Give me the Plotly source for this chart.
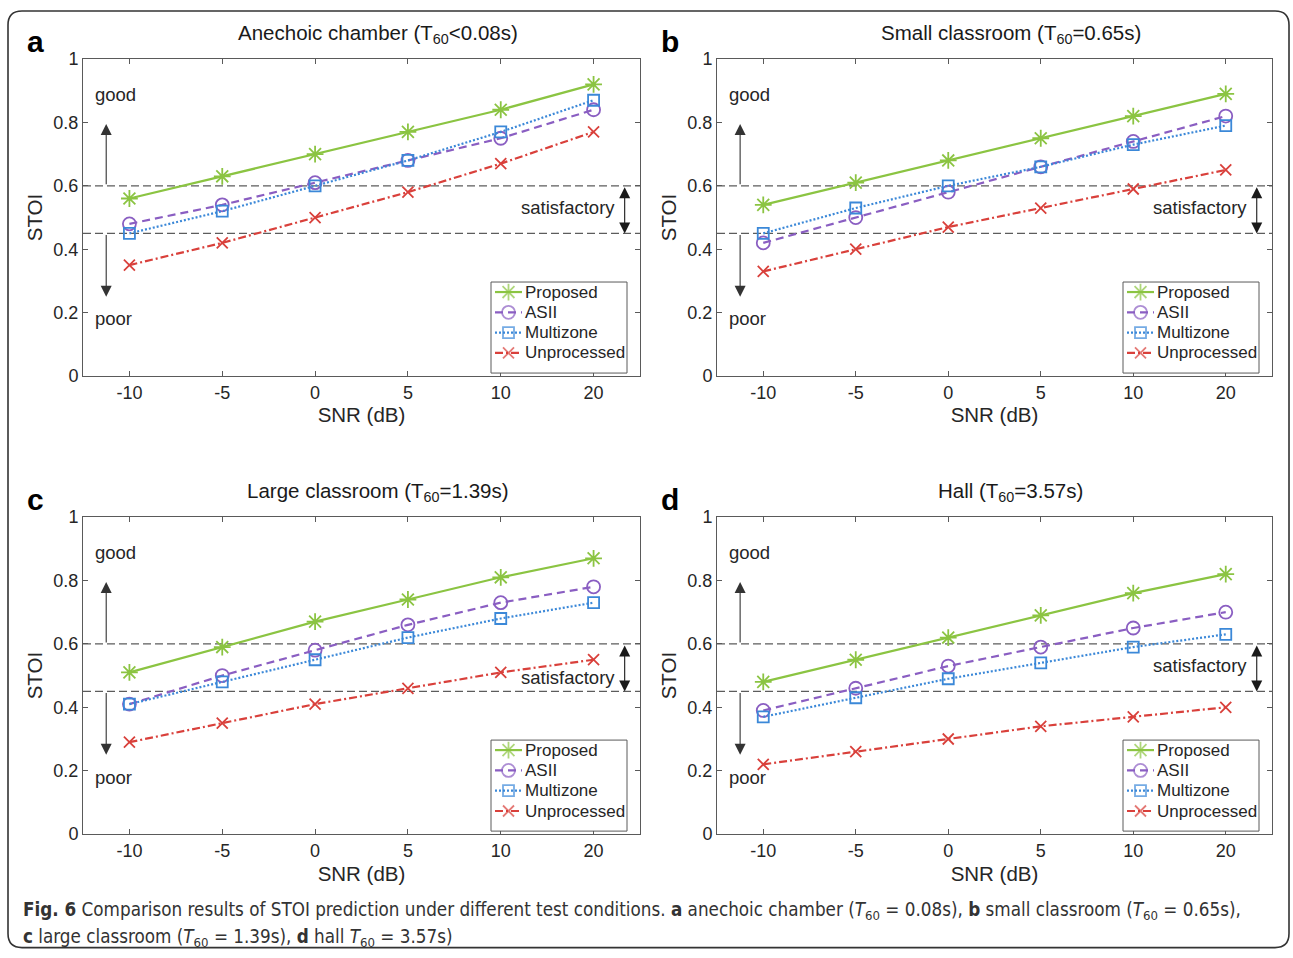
import plotly.graph_objects as go

# ---- data -------------------------------------------------------------
snr_labels = ["-10", "-5", "0", "5", "10", "20"]
series_names = ["Proposed", "ASII", "Multizone", "Unprocessed"]

panel_letters = ["a", "b", "c", "d"]
panel_titles = [
    "Anechoic chamber (T<sub>60</sub>&lt;0.08s)",
    "Small classroom (T<sub>60</sub>=0.65s)",
    "Large classroom (T<sub>60</sub>=1.39s)",
    "Hall (T<sub>60</sub>=3.57s)",
]

# STOI per panel: a, b, c, d
proposed = [
    [0.56, 0.63, 0.70, 0.77, 0.84, 0.92],
    [0.54, 0.61, 0.68, 0.75, 0.82, 0.89],
    [0.51, 0.59, 0.67, 0.74, 0.81, 0.87],
    [0.48, 0.55, 0.62, 0.69, 0.76, 0.82],
]
asii = [
    [0.48, 0.54, 0.61, 0.68, 0.75, 0.84],
    [0.42, 0.50, 0.58, 0.66, 0.74, 0.82],
    [0.41, 0.50, 0.58, 0.66, 0.73, 0.78],
    [0.39, 0.46, 0.53, 0.59, 0.65, 0.70],
]
multizone = [
    [0.45, 0.52, 0.60, 0.68, 0.77, 0.87],
    [0.45, 0.53, 0.60, 0.66, 0.73, 0.79],
    [0.41, 0.48, 0.55, 0.62, 0.68, 0.73],
    [0.37, 0.43, 0.49, 0.54, 0.59, 0.63],
]
unprocessed = [
    [0.35, 0.42, 0.50, 0.58, 0.67, 0.77],
    [0.33, 0.40, 0.47, 0.53, 0.59, 0.65],
    [0.29, 0.35, 0.41, 0.46, 0.51, 0.55],
    [0.22, 0.26, 0.30, 0.34, 0.37, 0.40],
]

upper_threshold = 0.6
lower_threshold = 0.45
satisfactory_label_y = [0.533, 0.533, 0.495, 0.533]

caption_line1 = ("<b>Fig. 6</b> Comparison results of STOI prediction under different test conditions. "
                 "<b>a</b> anechoic chamber (<i>T</i><sub>60</sub> = 0.08s), "
                 "<b>b</b> small classroom (<i>T</i><sub>60</sub> = 0.65s),")
caption_line2 = ("<b>c</b> large classroom (<i>T</i><sub>60</sub> = 1.39s), "
                 "<b>d</b> hall <i>T</i><sub>60</sub> = 3.57s)")

# ---- styling ----------------------------------------------------------
W, H = 1293, 958
# vertical placement: a page row p sits at figure row (p - Y0) / YS
Y0, YS = 9.0, 0.979
FONT = "Liberation Sans, Arial, sans-serif"
CAP_FONT = "Liberation Sans Narrow, DejaVu Sans Condensed, sans-serif"
INK = "#262626"
AXIS = "#5a5a5a"

styles = {
    "Proposed":    dict(color="#8bc442", dash="solid",           symbol="asterisk-open", size=14),
    "ASII":        dict(color="#8a5ec2", dash="8px,5px",         symbol="circle-open",   size=13),
    "Multizone":   dict(color="#3b88d8", dash="2px,2px",         symbol="square-open",   size=11),
    "Unprocessed": dict(color="#d9403b", dash="8px,3px,2px,3px", symbol="x-thin-open",   size=11),
}
series_values = {"Proposed": proposed, "ASII": asii,
                 "Multizone": multizone, "Unprocessed": unprocessed}

# plot-area boxes in page pixels: (left, right, top, bottom)
boxes = [(83, 640, 58, 375), (717, 1272, 58, 375),
         (83, 640, 516, 833), (717, 1272, 516, 833)]


def fx(p):
    return p / W


def fy(p):
    return 1 - ((p - Y0) / YS) / H


fig = go.Figure()
layout = dict(
    width=W, height=H, margin=dict(l=0, r=0, t=0, b=0),
    paper_bgcolor="white", plot_bgcolor="rgba(0,0,0,0)",
    font=dict(family=FONT, color=INK, size=18),
    showlegend=False,
    annotations=[], shapes=[],
)

for i in range(4):
    sfx = "" if i == 0 else str(i + 1)
    xa, ya = "x" + sfx, "y" + sfx
    left, right, top, bottom = boxes[i]

    for name in series_names:
        st = styles[name]
        fig.add_trace(go.Scatter(
            x=snr_labels, y=series_values[name][i], name=name,
            mode="lines+markers", xaxis=xa, yaxis=ya,
            line=dict(color=st["color"], dash=st["dash"], width=2.2),
            marker=dict(symbol=st["symbol"], size=st["size"],
                        line=dict(color=st["color"], width=1.8)),
        ))

    axis_common = dict(showline=True, linecolor=AXIS, linewidth=1, mirror="allticks",
                       ticks="inside", ticklen=5, tickcolor=AXIS, showgrid=False,
                       zeroline=False, tickfont=dict(size=18, family=FONT, color=INK))
    layout["xaxis" + sfx] = dict(
        axis_common, type="category", range=[-0.5, 5.5],
        domain=[fx(left), fx(right)], anchor=ya,
        title=dict(text="SNR (dB)", font=dict(size=20.5), standoff=6),
    )
    layout["yaxis" + sfx] = dict(
        axis_common, range=[0, 1], tickvals=[0, 0.2, 0.4, 0.6, 0.8, 1],
        ticktext=["0", "0.2", "0.4", "0.6", "0.8", "1"],
        domain=[fy(bottom), fy(top)], anchor=xa,
        title=dict(text="STOI", font=dict(size=20.5), standoff=5),
    )

    # threshold lines
    for yv in (upper_threshold, lower_threshold):
        layout["shapes"].append(dict(
            type="line", xref=xa + " domain", yref=ya, x0=0, x1=1, y0=yv, y1=yv,
            line=dict(color="#5c5c5c", width=1.3, dash="8px,4px"), layer="below"))

    anns = layout["annotations"]
    # title and panel letter
    anns.append(dict(text=panel_titles[i], xref="paper", yref="paper",
                     x=fx((left + right) / 2 + 16), y=fy(top - 25), xanchor="center",
                     yanchor="middle", showarrow=False,
                     font=dict(size=20.5, color="#1a1a1a")))
    anns.append(dict(text="<b>" + panel_letters[i] + "</b>", xref="paper", yref="paper",
                     x=fx(left - 58), y=fy(top - 18), xanchor="left", yanchor="middle",
                     showarrow=False, font=dict(size=30, color="black", family=FONT)))
    # good / poor labels and arrows
    anns.append(dict(text="good", xref=xa, yref=ya, x=-0.39, y=0.887, xanchor="left",
                     yanchor="middle", showarrow=False, font=dict(size=18.5, color=INK)))
    anns.append(dict(text="poor", xref=xa, yref=ya, x=-0.39, y=0.18, xanchor="left",
                     yanchor="middle", showarrow=False, font=dict(size=18.5, color=INK)))
    anns.append(dict(text="", xref=xa, yref=ya, axref=xa, ayref=ya,
                     x=-0.25, y=0.795, ax=-0.25, ay=upper_threshold,
                     showarrow=True, arrowhead=2, arrowsize=2, arrowwidth=1.1,
                     arrowcolor="#333333"))
    anns.append(dict(text="", xref=xa, yref=ya, axref=xa, ayref=ya,
                     x=-0.25, y=0.25, ax=-0.25, ay=lower_threshold,
                     showarrow=True, arrowhead=2, arrowsize=2, arrowwidth=1.1,
                     arrowcolor="#333333"))
    # satisfactory band
    anns.append(dict(text="", xref=xa, yref=ya, axref=xa, ayref=ya,
                     x=5.335, y=lower_threshold, ax=5.335, ay=upper_threshold,
                     showarrow=True, arrowhead=2, startarrowhead=2, arrowside="end+start",
                     arrowsize=2, startarrowsize=2, arrowwidth=1.1,
                     arrowcolor="#1a1a1a"))
    anns.append(dict(text="satisfactory", xref=xa, yref=ya, x=5.25,
                     y=satisfactory_label_y[i], xanchor="right", yanchor="middle",
                     showarrow=False, font=dict(size=18.5, color=INK)))

# ---- per-panel legends on a hidden page-pixel axis pair ------------------
layout["xaxis5"] = dict(domain=[0, 1], range=[0, W], visible=False, fixedrange=True,
                        anchor="y5")
layout["yaxis5"] = dict(domain=[0, 1], range=[Y0 + YS * H, Y0], visible=False,
                        fixedrange=True, anchor="x5")

LEG_W, LEG_H, ROW = 136, 91, 20.3
for i in range(4):
    left, right, top, bottom = boxes[i]
    bx1, by1 = right - 13, bottom - 3
    bx0, by0 = bx1 - LEG_W, by1 - LEG_H
    fig.add_trace(go.Scatter(
        x=[bx0, bx1, bx1, bx0, bx0], y=[by0, by0, by1, by1, by0],
        xaxis="x5", yaxis="y5", mode="lines", fill="toself", fillcolor="white",
        line=dict(color=AXIS, width=1), hoverinfo="skip"))
    for k, name in enumerate(series_names):
        st = styles[name]
        ry = by0 + 10 + k * ROW
        fig.add_trace(go.Scatter(
            x=[bx0 + 4, bx0 + 17.5, bx0 + 31], y=[ry, ry, ry],
            xaxis="x5", yaxis="y5", mode="lines+markers", hoverinfo="skip",
            line=dict(color=st["color"], dash=st["dash"], width=2.2),
            marker=dict(symbol=st["symbol"], size=[0, st["size"], 0],
                        line=dict(color=st["color"], width=1.8))))
        layout["annotations"].append(dict(
            text=name, xref="x5", yref="y5", x=bx0 + 32, y=ry, xanchor="left",
            yanchor="middle", showarrow=False, font=dict(size=17, color=INK)))

# caption
layout["annotations"].append(dict(text=caption_line1, xref="paper", yref="paper",
                                  x=fx(21), y=fy(910), xanchor="left", yanchor="middle",
                                  showarrow=False,
                                  font=dict(size=18.7, family=CAP_FONT, color="#333333")))
layout["annotations"].append(dict(text=caption_line2, xref="paper", yref="paper",
                                  x=fx(21), y=fy(937), xanchor="left", yanchor="middle",
                                  showarrow=False,
                                  font=dict(size=18.7, family=CAP_FONT, color="#333333")))

# rounded outer frame
fl, fr, ft, fb, r = 8, 1289, 10, 946.5, 14
path = (f"M {fx(fl + r)},{fy(ft)} L {fx(fr - r)},{fy(ft)} "
        f"Q {fx(fr)},{fy(ft)} {fx(fr)},{fy(ft + r)} "
        f"L {fx(fr)},{fy(fb - r)} Q {fx(fr)},{fy(fb)} {fx(fr - r)},{fy(fb)} "
        f"L {fx(fl + r)},{fy(fb)} Q {fx(fl)},{fy(fb)} {fx(fl)},{fy(fb - r)} "
        f"L {fx(fl)},{fy(ft + r)} Q {fx(fl)},{fy(ft)} {fx(fl + r)},{fy(ft)} Z")
layout["shapes"].append(dict(type="path", xref="paper", yref="paper", path=path,
                             line=dict(color="#333333", width=1.6)))

fig.update_layout(**layout)
fig.write_html("out.html")
